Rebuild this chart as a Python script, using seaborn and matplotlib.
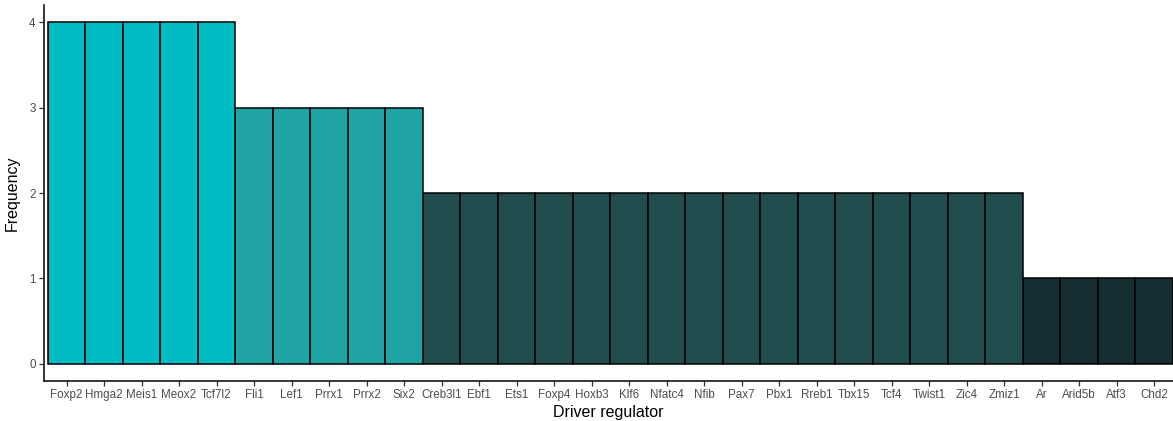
import pandas as pd
import numpy as np
import matplotlib.pyplot as plt
import seaborn as sns

regulators = ["Foxp2", "Hmga2", "Meis1", "Meox2", "Tcf7l2",
              "Fli1", "Lef1", "Prrx1", "Prrx2", "Six2",
              "Creb3l1", "Ebf1", "Ets1", "Foxp4", "Hoxb3", "Klf6", "Nfatc4", "Nfib",
              "Pax7", "Pbx1", "Rreb1", "Tbx15", "Tcf4", "Twist1", "Zic4", "Zmiz1",
              "Ar", "Arid5b", "Atf3", "Chd2"]
frequency = [4, 4, 4, 4, 4,
             3, 3, 3, 3, 3,
             2, 2, 2, 2, 2, 2, 2, 2, 2, 2, 2, 2, 2, 2, 2, 2,
             1, 1, 1, 1]
freq_colors = {4: "#00BCC4", 3: "#1FA3A5", 2: "#224D4E", 1: "#132D31"}

df = pd.DataFrame({"regulator": regulators, "freq": frequency})

sns.set_style("ticks")
plt.rcParams["font.family"] = ["Liberation Sans", "DejaVu Sans"]

fig = plt.figure(figsize=(11.73, 4.21), dpi=100)
ax = fig.add_axes([44 / 1173, 40 / 421, 1 - 44 / 1173, 376 / 421])

sns.barplot(data=df, x="regulator", y="freq", hue="freq", palette=freq_colors,
            order=regulators, dodge=False, width=1, edgecolor="black",
            linewidth=1.1, saturation=1, legend=False, ax=ax)

ax.set_xlim(-0.6, 29.5)
ax.set_ylim(-0.2, 4.2)
ax.set_yticks([0, 1, 2, 3, 4])
ax.set_xlabel("Driver regulator", fontsize=11.5, color="black", labelpad=2.5)
ax.set_ylabel("Frequency", fontsize=11.5, color="black", labelpad=7)
ax.tick_params(axis="both", labelsize=8.4, labelcolor="#4D4D4D", length=3.5,
               width=0.9, color="#333333", pad=2.5)
for side in ["top", "right"]:
    ax.spines[side].set_visible(False)
for side in ["left", "bottom"]:
    ax.spines[side].set_linewidth(1.1)
    ax.spines[side].set_color("black")

plt.savefig("out.png", dpi=100)
